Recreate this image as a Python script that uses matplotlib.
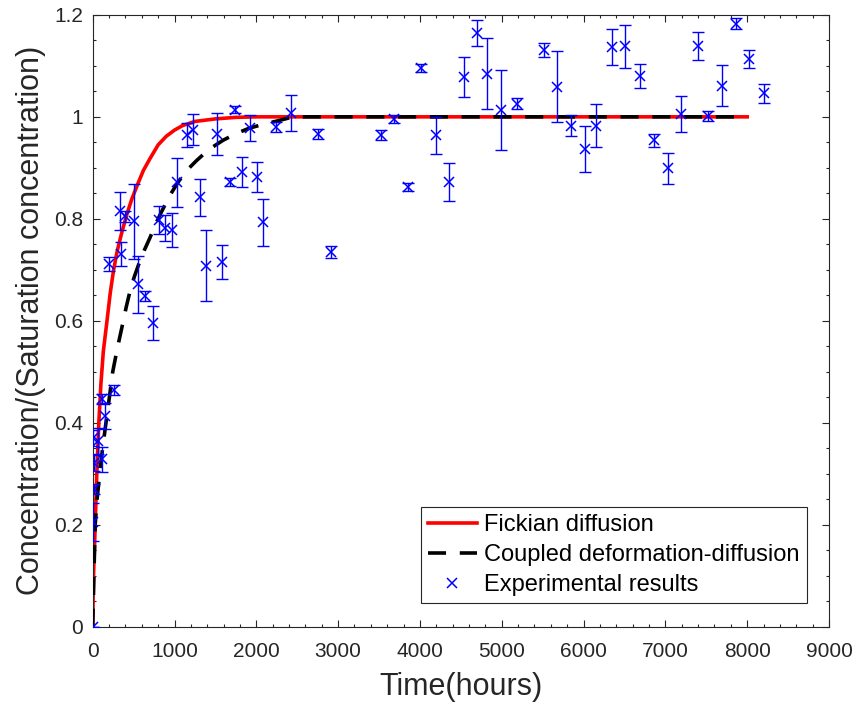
import matplotlib
matplotlib.use('Agg')
import matplotlib.pyplot as plt
from matplotlib.ticker import MultipleLocator


# Fickian diffusion curve
FICK_T = [0, 10, 25, 50, 75, 100, 130, 175, 215, 256, 300, 357, 420, 479, 550, 620, 700, 800,
          900, 1000, 1100, 1250, 1500, 1750, 2000, 8000]
FICK_C = [0, 0.10, 0.17, 0.30, 0.40, 0.475, 0.54, 0.60, 0.655, 0.70, 0.737, 0.774, 0.81, 0.839,
          0.868, 0.895, 0.918, 0.945, 0.962, 0.974, 0.983, 0.991, 0.996, 0.999, 1.0, 1.0]

# coupled deformation-diffusion curve
COUP_T = [0, 15, 30, 50, 73, 110, 154, 200, 245, 300, 357, 410, 459, 510, 561, 630, 703, 770,
          845, 940, 1044, 1150, 1268, 1420, 1593, 1750, 1918, 2100, 2284, 2450, 8000]
COUP_C = [0, 0.10, 0.20, 0.245, 0.28, 0.335, 0.39, 0.445, 0.50, 0.545, 0.587, 0.627, 0.66, 0.687,
          0.71, 0.738, 0.764, 0.79, 0.815, 0.845, 0.872, 0.895, 0.914, 0.936, 0.954, 0.967,
          0.978, 0.986, 0.993, 1.0, 1.0]

# experimental results
EXP_T = [0, 0, 12, 12, 0, 65, 113, 154, 113, 256, 195, 333, 349, 400, 510, 552, 645, 735, 810,
         885, 970, 1035, 1155, 1225, 1309, 1390, 1515, 1580, 1680, 1740, 1829, 1918, 2007, 2081,
         2235, 2427, 2751, 2915, 3520, 3687, 3849, 4012, 4195, 4357, 4540, 4695, 4817, 4988,
         5190, 5516, 5678, 5841, 6016, 6146, 6349, 6504, 6687, 6857, 7028, 7190, 7394, 7520,
         7691, 7866, 8028, 8211]
EXP_C = [0.0, 0.206, 0.270, 0.321, 0.370, 0.364, 0.328, 0.413, 0.446, 0.465, 0.711, 0.816, 0.731,
         0.805, 0.795, 0.672, 0.649, 0.596, 0.798, 0.782, 0.778, 0.872, 0.964, 0.975, 0.842,
         0.708, 0.967, 0.715, 0.873, 1.014, 0.892, 0.978, 0.882, 0.793, 0.980, 1.008, 0.967,
         0.735, 0.964, 0.995, 0.862, 1.095, 0.964, 0.872, 1.078, 1.164, 1.085, 1.013, 1.026,
         1.131, 1.059, 0.983, 0.937, 0.983, 1.137, 1.138, 1.080, 0.954, 0.899, 1.006, 1.139,
         1.002, 1.061, 1.183, 1.114, 1.046]
EXP_ERR = [0, 0.037, 0.01, 0.015, 0.015, 0.025, 0.025, 0.025, 0.01, 0.01, 0.014, 0.037, 0.024,
           0.011, 0.074, 0.056, 0.01, 0.033, 0.028, 0.025, 0.034, 0.048, 0.024, 0.031, 0.036,
           0.07, 0.041, 0.033, 0.008, 0.007, 0.03, 0.026, 0.029, 0.046, 0.01, 0.035, 0.01,
           0.012, 0.01, 0.008, 0.008, 0.008, 0.036, 0.038, 0.039, 0.025, 0.069, 0.078, 0.01,
           0.013, 0.07, 0.02, 0.045, 0.042, 0.036, 0.042, 0.023, 0.013, 0.03, 0.035, 0.028,
           0.01, 0.04, 0.01, 0.018, 0.019]

AX_COLOR = '#262626'

plt.rcParams['font.family'] = ['Liberation Sans', 'DejaVu Sans']

fig = plt.figure(figsize=(8.59, 7.08), dpi=100)
ax = fig.add_axes([0.1079, 0.1148, 0.8572, 0.8642])

ax.plot(FICK_T, FICK_C, color='red', lw=2.6, label='Fickian diffusion', zorder=2)
ax.plot(COUP_T, COUP_C, color='black', lw=2.6, dashes=(5.0, 3.8),
        label='Coupled deformation-diffusion', zorder=3)
ax.errorbar(EXP_T, EXP_C, yerr=EXP_ERR, fmt='none', ecolor='blue', elinewidth=1.0,
            capsize=4.5, capthick=1.0, zorder=4)
ax.plot(EXP_T, EXP_C, 'x', color='blue', ms=7.5, mew=1.1, label='Experimental results', zorder=5)

ax.set_xlim(0, 9000)
ax.set_ylim(0, 1.2)
ax.xaxis.set_major_locator(MultipleLocator(1000))
ax.xaxis.set_minor_locator(MultipleLocator(200))
ax.set_yticks([0, 0.2, 0.4, 0.6, 0.8, 1.0, 1.2])
ax.set_yticklabels(['0', '0.2', '0.4', '0.6', '0.8', '1', '1.2'])
ax.yaxis.set_minor_locator(MultipleLocator(0.05))

ax.tick_params(which='both', direction='in', top=True, right=True, colors=AX_COLOR,
               labelsize=15, width=0.8)
ax.tick_params(which='major', length=5)
ax.tick_params(which='minor', length=2.5)
ax.tick_params(axis='x', pad=11)
ax.tick_params(axis='y', pad=7)
for s in ax.spines.values():
    s.set_color(AX_COLOR)
    s.set_linewidth(0.8)

ax.set_xlabel('Time(hours)', fontsize=22, color=AX_COLOR, labelpad=8)
ax.set_ylabel('Concentration/(Saturation concentration)', fontsize=22, color=AX_COLOR, labelpad=6)

leg = ax.legend(loc='lower right', bbox_to_anchor=(0.97, 0.038), fontsize=17, fancybox=False,
                framealpha=1, edgecolor=AX_COLOR, handlelength=2.1, handletextpad=0.3,
                labelspacing=0.35, borderpad=0.3, borderaxespad=0)
leg.get_frame().set_linewidth(0.8)

fig.savefig('out.png', dpi=100)
